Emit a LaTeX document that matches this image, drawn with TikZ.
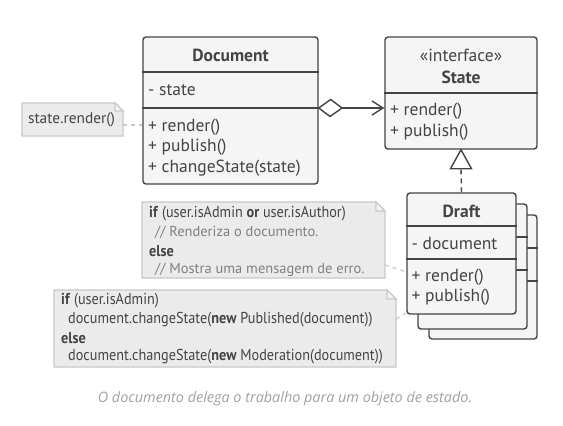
\documentclass[tikz,border=0pt]{standalone}
\usepackage{fontspec}
\setmainfont{PT Sans}
\newfontfamily\narrowfont{PT Sans}[FakeStretch=0.9]
\newfontfamily\capfont{Open Sans}
\usetikzlibrary{arrows.meta,calc}
\definecolor{ink}{HTML}{444444}
\definecolor{boxfill}{HTML}{F5F5F5}
\definecolor{notefill}{HTML}{EBEBEB}
\definecolor{noteline}{HTML}{C8C8C8}
\definecolor{foldfill}{HTML}{F6F6F6}
\definecolor{cmt}{HTML}{808080}
\definecolor{capgray}{HTML}{A0A0A0}
\tikzset{
  classbox/.style={draw=ink, line width=1.4pt, fill=boxfill, rounded corners=3pt, inner sep=0pt},
  sepline/.style={draw=ink, line width=1.4pt},
  ctext/.style={text=ink, font=\fontsize{17.5}{20}\selectfont, anchor=west, inner sep=0pt},
  ctitle/.style={text=ink, font=\fontsize{17.5}{20}\selectfont\bfseries, anchor=center, inner sep=0pt},
  notebody/.style={fill=notefill, draw=noteline, line width=1.2pt},
  foldtri/.style={draw=noteline, fill=foldfill, line width=1.2pt, line join=miter},
  ntext/.style={text=ink, font=\fontsize{15.8}{18}\selectfont\narrowfont, anchor=west, inner sep=0pt},
  ctxt/.style={text=cmt, font=\fontsize{14.5}{17}\selectfont, anchor=west, inner sep=0pt},
  link/.style={draw=noteline, line width=1.2pt, dash pattern=on 4pt off 4pt},
  assoc/.style={draw=ink, line width=1.4pt},
}
\begin{document}
\begin{tikzpicture}[x=1pt,y=-1pt]
\useasboundingbox (0,0) rectangle (563,426);

% ---------- Document class ----------
\node (doc) [classbox, minimum width=175pt, minimum height=147pt] at (230.5,110.5) {};
\draw[sepline] (doc.west |- 0,72) -- (doc.east |- 0,72);
\draw[sepline] (doc.west |- 0,108) -- (doc.east |- 0,108);
\node[ctitle] (docT) at (230.5,55) {Document};
\node[ctext] (docA) at (148,90) {- state};
\node[ctext] (docM1) at (148,127) {+ render()};
\node[ctext] (docM2) at (148,147.5) {+ publish()};
\node[ctext] (docM3) at (148,168) {+ changeState(state)};

% ---------- State interface ----------
\node (st) [classbox, minimum width=152pt, minimum height=112pt] at (461,93) {};
\draw[sepline] (st.west |- 0,93) -- (st.east |- 0,93);
\node[text=ink, font=\fontsize{17.5}{20}\selectfont, inner sep=0pt] (stS) at (461,55) {«interface»};
\node[ctitle] (stT) at (461,77) {State};
\node[ctext] (stM1) at (390,111) {+ render()};
\node[ctext] (stM2) at (390,132) {+ publish()};

% ---------- Draft stack ----------
\node (d3) [classbox, minimum width=108pt, minimum height=124pt] at (483,277) {};
\draw[sepline] (d3.west |- 0,248) -- (d3.east |- 0,248);
\draw[sepline] (d3.west |- 0,281) -- (d3.east |- 0,281);
\node (d2) [classbox, minimum width=109pt, minimum height=125pt] at (472.5,266.5) {};
\draw[sepline] (d2.west |- 0,237) -- (d2.east |- 0,237);
\draw[sepline] (d2.west |- 0,270) -- (d2.east |- 0,270);
\node (dr) [classbox, minimum width=109pt, minimum height=121pt] at (461.5,253.5) {};
\draw[sepline] (dr.west |- 0,226) -- (dr.east |- 0,226);
\draw[sepline] (dr.west |- 0,259) -- (dr.east |- 0,259);
\node[ctitle] (drT) at (461.5,211) {Draft};
\node[ctext] (drA) at (411.5,243) {- document};
\node[ctext] (drM1) at (411.5,277) {+ render()};
\node[ctext] (drM2) at (411.5,297.5) {+ publish()};

% ---------- aggregation Document -> State ----------
\coordinate (dmR) at (doc.east |- 0,108);
\coordinate (dmT) at (342,108);
\coordinate (stIn) at (st.west |- 0,108);
\draw[assoc, fill=white, line join=miter] (dmR) -- ++(12,-8.5) -- (dmT) -- ++(-12,8.5) -- cycle;
\draw[assoc, -{Straight Barb[length=11pt,width=14pt,line width=1.4pt]}] (dmT) -- (stIn);

% ---------- realization Draft -> State ----------
\coordinate (stB) at (st.south);
\coordinate (triB) at ($(st.south)+(0,19)$);
\draw[assoc, dash pattern=on 5pt off 4pt] (dr.north) -- (triB);
\draw[assoc, fill=white, line join=miter] (stB) -- ($(triB)+(10.5,0)$) -- ($(triB)+(-10.5,0)$) -- cycle;

% ---------- note 1 ----------
\draw[notebody] (22,103) -- (115,103) -- (123,111) -- (123,136) -- (22,136) -- cycle;
\draw[foldtri] (115,103) -- (115,111) -- (123,111) -- cycle;
\node[text=ink, font=\fontsize{15.4}{17}\selectfont, inner sep=0pt] (n1) at (71.5,120) {state.render()};
\coordinate (n1R) at (123,125);
\draw[link] (n1R) -- (doc.west |- n1R);

% ---------- note 2 ----------
\draw[notebody] (142,202) -- (376,202) -- (385,211) -- (385,278) -- (142,278) -- cycle;
\draw[foldtri] (376,202) -- (376,211) -- (385,211) -- cycle;
\node[ntext] (n2l1) at (149,214) {\textbf{if} (user.isAdmin \textbf{or} user.isAuthor)};
\node[ctxt] (n2l2) at (155,232.5) {// Renderiza o documento.};
\node[ntext] (n2l3) at (149,251) {\textbf{else}};
\node[ctxt] (n2l4) at (155,269.5) {// Mostra uma mensagem de erro.};
\coordinate (n2R) at (385,265);
\coordinate (dr2) at (dr.west |- 0,272);
\draw[link] (n2R) -- (dr2);

% ---------- note 3 ----------
\draw[notebody] (54,290) -- (387,290) -- (396,299) -- (396,367) -- (54,367) -- cycle;
\draw[foldtri] (387,290) -- (387,299) -- (396,299) -- cycle;
\node[ntext] (n3l1) at (61,301) {\textbf{if} (user.isAdmin)};
\node[ntext] (n3l2) at (68,320) {document.changeState(\textbf{new} Published(document))};
\node[ntext] (n3l3) at (61,338.5) {\textbf{else}};
\node[ntext] (n3l4) at (68,357) {document.changeState(\textbf{new} Moderation(document))};
\coordinate (n3R) at (396,319);
\coordinate (dr3) at (dr.west |- 0,313);
\draw[link] (n3R) -- (dr3);

% ---------- caption ----------
\node[text=capgray, font=\fontsize{14.4}{17}\selectfont\capfont\itshape, inner sep=0pt] (cap) at (285,399) {O documento delega o trabalho para um objeto de estado.};
\end{tikzpicture}
\end{document}
